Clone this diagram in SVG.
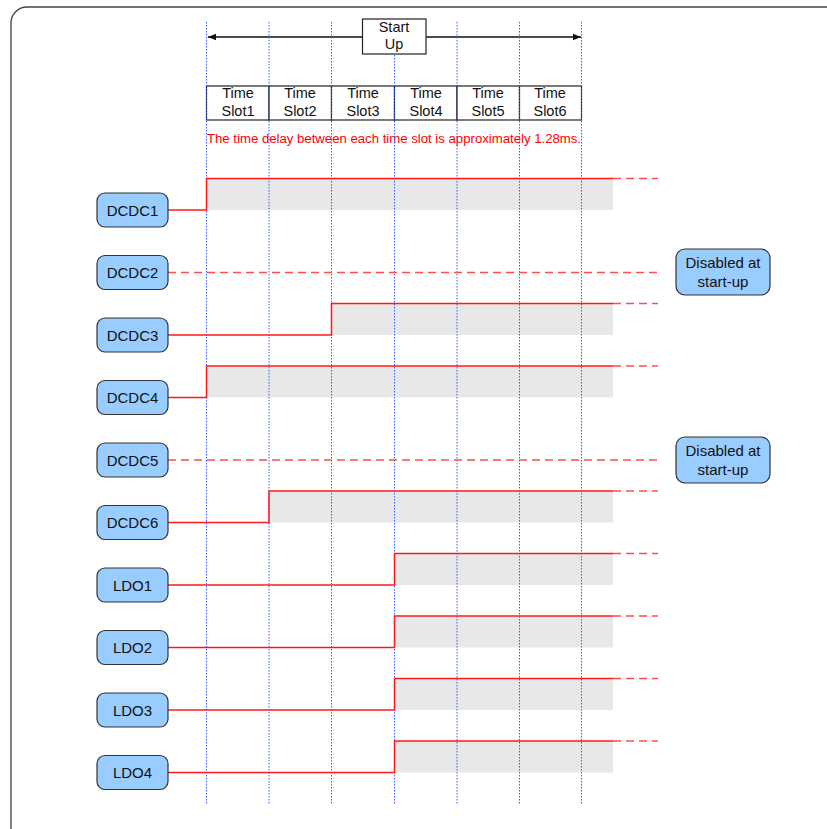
<svg xmlns="http://www.w3.org/2000/svg" width="827" height="829" viewBox="0 0 827 829">
<style>
  .frame{fill:#fff;stroke:#444;stroke-width:1.3}
  .grid{stroke:#3a5cff;stroke-width:1;stroke-dasharray:1.5,1.5;fill:none}
  .cell{fill:#fff;stroke:#222;stroke-width:1.2}
  .t{font-family:"Liberation Sans",Arial,sans-serif;font-size:14.5px;fill:#111;text-anchor:middle}
  .lbl{fill:#99ccff;stroke:#333;stroke-width:1.2}
  .lt{font-family:"Liberation Sans",Arial,sans-serif;font-size:15px;fill:#111;text-anchor:middle}
  .note{font-family:"Liberation Sans",Arial,sans-serif;font-size:12px;fill:#ff0000}
  .on{fill:#e8e8e8;stroke:none}
  .sig{fill:none;stroke:#ff1a1a;stroke-width:1.5}
  .dash{fill:none;stroke:#ff4d4d;stroke-width:1.5;stroke-dasharray:8,5}
  .arr{stroke:#111;stroke-width:1.3;fill:none}
</style>
<defs>
  <marker id="ah" viewBox="0 0 10 10" refX="10" refY="5" markerWidth="10" markerHeight="8" markerUnits="userSpaceOnUse" orient="auto-start-reverse">
    <path d="M0,1 L10,5 L0,9 Z" fill="#111"/>
  </marker>
</defs>
<rect class="frame" x="11" y="7" width="840" height="840" rx="16"/>

<!-- header -->
<g id="startup-arrow">
  <line class="arr" x1="208" y1="37" x2="581" y2="37" marker-start="url(#ah)" marker-end="url(#ah)"/>
</g>
<g id="startup">
  <rect class="cell" x="362.5" y="19" width="63.5" height="35"/>
  <text class="t" x="394" y="32">Start</text>
  <text class="t" x="394" y="49">Up</text>
</g>
<g id="slots">
  <rect class="cell" x="206.5" y="86" width="62.5" height="34"/>
  <rect class="cell" x="269" y="86" width="62.5" height="34"/>
  <rect class="cell" x="331.5" y="86" width="63" height="34"/>
  <rect class="cell" x="394.5" y="86" width="62.5" height="34"/>
  <rect class="cell" x="457" y="86" width="62.5" height="34"/>
  <rect class="cell" x="519.5" y="86" width="62" height="34"/>
  <text class="t" x="238" y="98">Time</text><text class="t" x="238" y="116">Slot1</text>
  <text class="t" x="300" y="98">Time</text><text class="t" x="300" y="116">Slot2</text>
  <text class="t" x="363" y="98">Time</text><text class="t" x="363" y="116">Slot3</text>
  <text class="t" x="426" y="98">Time</text><text class="t" x="426" y="116">Slot4</text>
  <text class="t" x="488" y="98">Time</text><text class="t" x="488" y="116">Slot5</text>
  <text class="t" x="550" y="98">Time</text><text class="t" x="550" y="116">Slot6</text>
</g>
<text class="note" x="207" y="143" textLength="374" lengthAdjust="spacingAndGlyphs">The time delay between each time slot is approximately 1.28ms.</text>

<!-- gray on regions -->
<g id="on-regions">
  <rect class="on" x="206.5" y="178.5" width="406.5" height="31.5"/>
  <rect class="on" x="331.5" y="303.5" width="281.5" height="31.5"/>
  <rect class="on" x="206.5" y="366" width="406.5" height="31.5"/>
  <rect class="on" x="269" y="491" width="344" height="31.5"/>
  <rect class="on" x="394.5" y="553.5" width="218.5" height="31.5"/>
  <rect class="on" x="394.5" y="616" width="218.5" height="31.5"/>
  <rect class="on" x="394.5" y="678.5" width="218.5" height="31.5"/>
  <rect class="on" x="394.5" y="741" width="218.5" height="31.5"/>
</g>

<!-- grid -->
<g id="grid">
  <line class="grid" x1="206.5" y1="22" x2="206.5" y2="805"/>
  <line class="grid" x1="269" y1="22" x2="269" y2="805"/>
  <line class="grid" x1="331.5" y1="22" x2="331.5" y2="805"/>
  <line class="grid" x1="394.5" y1="55" x2="394.5" y2="805"/>
  <line class="grid" x1="457" y1="22" x2="457" y2="805"/>
  <line class="grid" x1="519.5" y1="22" x2="519.5" y2="805"/>
  <line class="grid" x1="581.5" y1="22" x2="581.5" y2="805"/>
</g>

<!-- connectors / signals -->
<g id="connectors">
  <path class="sig" d="M168,210 H206.5 V178.5 H613"/>
  <line class="dash" x1="613" y1="178.5" x2="658" y2="178.5"/>
  <line class="dash" x1="168" y1="272.5" x2="658" y2="272.5"/>
  <path class="sig" d="M168,335 H331.5 V303.5 H613"/>
  <line class="dash" x1="613" y1="303.5" x2="658" y2="303.5"/>
  <path class="sig" d="M168,397.5 H206.5 V366 H613"/>
  <line class="dash" x1="613" y1="366" x2="658" y2="366"/>
  <line class="dash" x1="168" y1="460" x2="658" y2="460"/>
  <path class="sig" d="M168,522.5 H269 V491 H613"/>
  <line class="dash" x1="613" y1="491" x2="658" y2="491"/>
  <path class="sig" d="M168,585 H394.5 V553.5 H613"/>
  <line class="dash" x1="613" y1="553.5" x2="658" y2="553.5"/>
  <path class="sig" d="M168,647.5 H394.5 V616 H613"/>
  <line class="dash" x1="613" y1="616" x2="658" y2="616"/>
  <path class="sig" d="M168,710 H394.5 V678.5 H613"/>
  <line class="dash" x1="613" y1="678.5" x2="658" y2="678.5"/>
  <path class="sig" d="M168,772.5 H394.5 V741 H613"/>
  <line class="dash" x1="613" y1="741" x2="658" y2="741"/>
</g>

<!-- labels -->
<g id="DCDC1"><rect class="lbl" x="97" y="193" width="71" height="34" rx="8"/><text class="lt" x="132.5" y="215.5">DCDC1</text></g>
<g id="DCDC2"><rect class="lbl" x="97" y="255.5" width="71" height="34" rx="8"/><text class="lt" x="132.5" y="278">DCDC2</text></g>
<g id="DCDC3"><rect class="lbl" x="97" y="318" width="71" height="34" rx="8"/><text class="lt" x="132.5" y="340.5">DCDC3</text></g>
<g id="DCDC4"><rect class="lbl" x="97" y="380.5" width="71" height="34" rx="8"/><text class="lt" x="132.5" y="403">DCDC4</text></g>
<g id="DCDC5"><rect class="lbl" x="97" y="443" width="71" height="34" rx="8"/><text class="lt" x="132.5" y="465.5">DCDC5</text></g>
<g id="DCDC6"><rect class="lbl" x="97" y="505.5" width="71" height="34" rx="8"/><text class="lt" x="132.5" y="528">DCDC6</text></g>
<g id="LDO1"><rect class="lbl" x="97" y="568" width="71" height="34" rx="8"/><text class="lt" x="132.5" y="590.5">LDO1</text></g>
<g id="LDO2"><rect class="lbl" x="97" y="630.5" width="71" height="34" rx="8"/><text class="lt" x="132.5" y="653">LDO2</text></g>
<g id="LDO3"><rect class="lbl" x="97" y="693" width="71" height="34" rx="8"/><text class="lt" x="132.5" y="715.5">LDO3</text></g>
<g id="LDO4"><rect class="lbl" x="97" y="755.5" width="71" height="34" rx="8"/><text class="lt" x="132.5" y="778">LDO4</text></g>

<g id="disabled1"><rect class="lbl" x="676" y="249" width="94" height="46" rx="9"/><text class="lt" x="723" y="268">Disabled at</text><text class="lt" x="723" y="287">start-up</text></g>
<g id="disabled2"><rect class="lbl" x="676" y="437" width="94" height="46" rx="9"/><text class="lt" x="723" y="456">Disabled at</text><text class="lt" x="723" y="475">start-up</text></g>
</svg>
